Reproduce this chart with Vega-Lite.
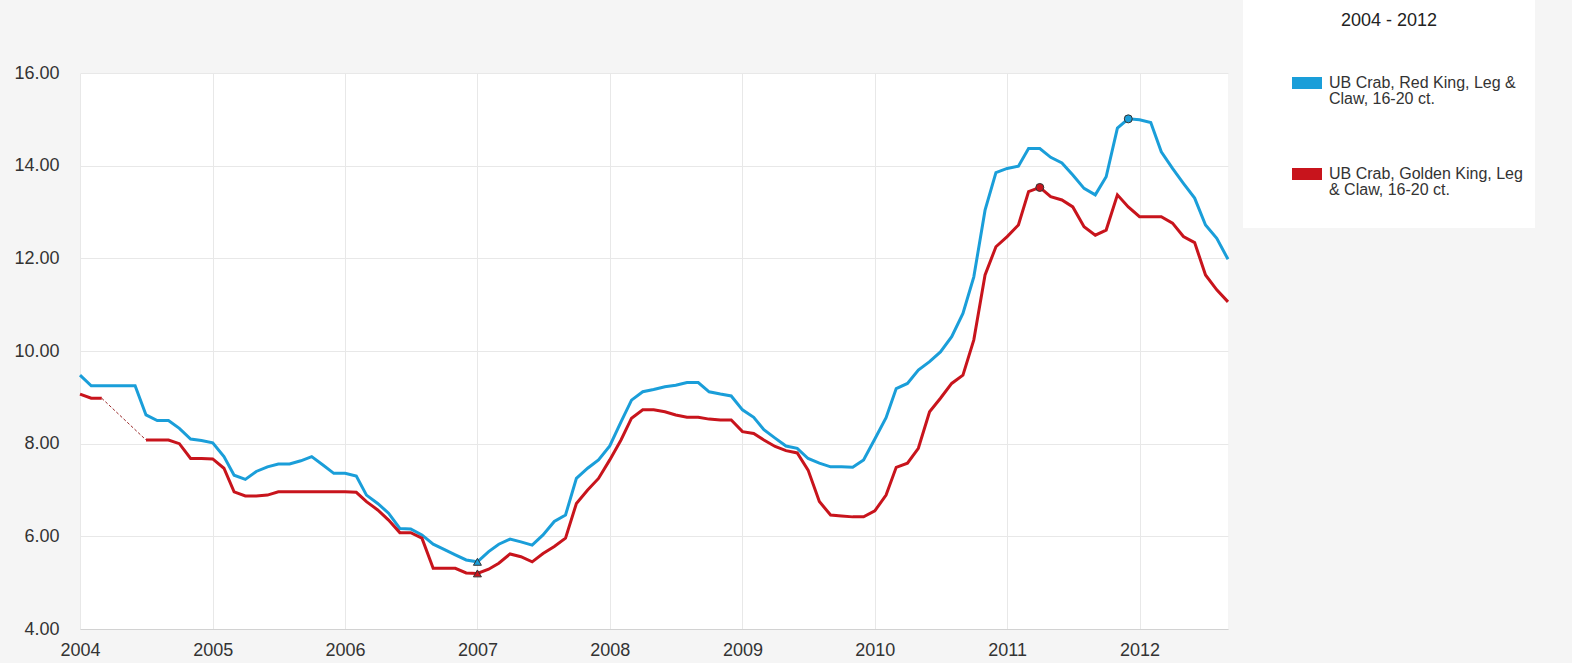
{
  "$schema": "https://vega.github.io/schema/vega-lite/v6.json",
  "width": 1148,
  "height": 556,
  "autosize": {"type": "none"},
  "padding": {"left": 80, "top": 73, "right": 344, "bottom": 34},
  "background": "#f5f5f5",
  "data": {
    "values": [
      {"d":"2004-01-01","R":9.48,"G":9.07},{"d":"2004-02-01","R":9.25,"G":8.98},{"d":"2004-03-01","R":9.25,"G":8.98},{"d":"2004-04-01","R":9.25,"G":null},{"d":"2004-05-01","R":9.25,"G":null},{"d":"2004-06-01","R":9.25,"G":null},{"d":"2004-07-01","R":8.62,"G":8.08},{"d":"2004-08-01","R":8.5,"G":8.08},{"d":"2004-09-01","R":8.5,"G":8.08},{"d":"2004-10-01","R":8.33,"G":8.0},{"d":"2004-11-01","R":8.1,"G":7.68},{"d":"2004-12-01","R":8.07,"G":7.68},
      {"d":"2005-01-01","R":8.02,"G":7.67},{"d":"2005-02-01","R":7.72,"G":7.47},{"d":"2005-03-01","R":7.32,"G":6.96},{"d":"2005-04-01","R":7.23,"G":6.87},{"d":"2005-05-01","R":7.4,"G":6.87},{"d":"2005-06-01","R":7.5,"G":6.89},{"d":"2005-07-01","R":7.56,"G":6.96},{"d":"2005-08-01","R":7.56,"G":6.96},{"d":"2005-09-01","R":7.63,"G":6.96},{"d":"2005-10-01","R":7.72,"G":6.96},{"d":"2005-11-01","R":7.54,"G":6.96},{"d":"2005-12-01","R":7.36,"G":6.96},
      {"d":"2006-01-01","R":7.36,"G":6.96},{"d":"2006-02-01","R":7.3,"G":6.95},{"d":"2006-03-01","R":6.89,"G":6.75},{"d":"2006-04-01","R":6.71,"G":6.57},{"d":"2006-05-01","R":6.5,"G":6.35},{"d":"2006-06-01","R":6.17,"G":6.08},{"d":"2006-07-01","R":6.16,"G":6.08},{"d":"2006-08-01","R":6.03,"G":5.96},{"d":"2006-09-01","R":5.83,"G":5.31},{"d":"2006-10-01","R":5.72,"G":5.31},{"d":"2006-11-01","R":5.6,"G":5.31},{"d":"2006-12-01","R":5.49,"G":5.21},
      {"d":"2007-01-01","R":5.45,"G":5.2},{"d":"2007-02-01","R":5.67,"G":5.29},{"d":"2007-03-01","R":5.83,"G":5.42},{"d":"2007-04-01","R":5.94,"G":5.62},{"d":"2007-05-01","R":5.88,"G":5.56},{"d":"2007-06-01","R":5.81,"G":5.45},{"d":"2007-07-01","R":6.03,"G":5.63},{"d":"2007-08-01","R":6.32,"G":5.78},{"d":"2007-09-01","R":6.46,"G":5.96},{"d":"2007-10-01","R":7.25,"G":6.71},{"d":"2007-11-01","R":7.47,"G":7.0},{"d":"2007-12-01","R":7.65,"G":7.25},
      {"d":"2008-01-01","R":7.95,"G":7.65},{"d":"2008-02-01","R":8.47,"G":8.08},{"d":"2008-03-01","R":8.94,"G":8.55},{"d":"2008-04-01","R":9.12,"G":8.73},{"d":"2008-05-01","R":9.17,"G":8.73},{"d":"2008-06-01","R":9.23,"G":8.69},{"d":"2008-07-01","R":9.26,"G":8.62},{"d":"2008-08-01","R":9.32,"G":8.57},{"d":"2008-09-01","R":9.32,"G":8.57},{"d":"2008-10-01","R":9.12,"G":8.53},{"d":"2008-11-01","R":9.07,"G":8.51},{"d":"2008-12-01","R":9.03,"G":8.51},
      {"d":"2009-01-01","R":8.73,"G":8.26},{"d":"2009-02-01","R":8.57,"G":8.22},{"d":"2009-03-01","R":8.3,"G":8.08},{"d":"2009-04-01","R":8.12,"G":7.94},{"d":"2009-05-01","R":7.95,"G":7.85},{"d":"2009-06-01","R":7.9,"G":7.8},{"d":"2009-07-01","R":7.68,"G":7.43},{"d":"2009-08-01","R":7.58,"G":6.75},{"d":"2009-09-01","R":7.5,"G":6.46},{"d":"2009-10-01","R":7.5,"G":6.44},{"d":"2009-11-01","R":7.49,"G":6.42},{"d":"2009-12-01","R":7.65,"G":6.42},
      {"d":"2010-01-01","R":8.1,"G":6.55},{"d":"2010-02-01","R":8.56,"G":6.89},{"d":"2010-03-01","R":9.19,"G":7.49},{"d":"2010-04-01","R":9.3,"G":7.58},{"d":"2010-05-01","R":9.59,"G":7.9},{"d":"2010-06-01","R":9.77,"G":8.69},{"d":"2010-07-01","R":9.98,"G":8.98},{"d":"2010-08-01","R":10.31,"G":9.3},{"d":"2010-09-01","R":10.81,"G":9.48},{"d":"2010-10-01","R":11.6,"G":10.24},{"d":"2010-11-01","R":13.04,"G":11.64},{"d":"2010-12-01","R":13.85,"G":12.25},
      {"d":"2011-01-01","R":13.94,"G":12.47},{"d":"2011-02-01","R":13.99,"G":12.72},{"d":"2011-03-01","R":14.37,"G":13.44},{"d":"2011-04-01","R":14.37,"G":13.53},{"d":"2011-05-01","R":14.18,"G":13.33},{"d":"2011-06-01","R":14.06,"G":13.26},{"d":"2011-07-01","R":13.8,"G":13.11},{"d":"2011-08-01","R":13.51,"G":12.68},{"d":"2011-09-01","R":13.37,"G":12.5},{"d":"2011-10-01","R":13.76,"G":12.61},{"d":"2011-11-01","R":14.81,"G":13.37},{"d":"2011-12-01","R":15.01,"G":13.11},
      {"d":"2012-01-01","R":14.99,"G":12.9},{"d":"2012-02-01","R":14.93,"G":12.9},{"d":"2012-03-01","R":14.3,"G":12.9},{"d":"2012-04-01","R":13.94,"G":12.76},{"d":"2012-05-01","R":13.62,"G":12.47},{"d":"2012-06-01","R":13.3,"G":12.34},{"d":"2012-07-01","R":12.72,"G":11.64},{"d":"2012-08-01","R":12.43,"G":11.32},{"d":"2012-09-01","R":11.98,"G":11.06}
    ]
  },
  "transform": [{"fold": ["R", "G"], "as": ["s", "v"]}],
  "encoding": {
    "x": {
      "field": "d", "type": "temporal",
      "scale": {"type": "utc", "domain": [{"year": 2004, "month": 1, "date": 1, "utc": true}, {"year": 2012, "month": 9, "date": 1, "utc": true}]},
      "axis": {"title": null, "format": "%Y", "tickCount": {"interval": "year", "step": 1}, "domain": true, "domainColor": "#d2d2d2", "labelPadding": 12, "labelFlush": false, "labelBaseline": "top"}
    },
    "y": {
      "field": "v", "type": "quantitative",
      "scale": {"domain": [4, 16], "nice": false, "zero": false},
      "axis": {"title": null, "values": [4, 6, 8, 10, 12, 14, 16], "format": ".2f", "labelPadding": 21, "domain": false}
    }
  },
  "layer": [
    {
      "mark": {"type": "line", "strokeWidth": 3, "invalid": "break-paths-show-domains", "interpolate": "linear"},
      "encoding": {
        "color": {
          "field": "s", "type": "nominal",
          "scale": {"domain": ["R", "G"], "range": ["#1a9ed9", "#c8141c"]},
          "legend": {
            "orient": "none", "legendX": 1163, "legendY": -73,
            "title": "2004 - 2012", "titleFontSize": 18, "titleFont": "Liberation Sans", "titleFontWeight": "normal", "titleColor": "#222", "titleAnchor": "middle", "titlePadding": 11,
            "fillColor": "white", "padding": 12,
            "symbolType": "M-1,0H1", "symbolSize": 900, "symbolStrokeWidth": 12, "symbolOffset": 31,
            "labelOffset": 1, "labelFontSize": 16, "labelFont": "Liberation Sans", "labelColor": "#333", "labelLimit": 300, "labelBaseline": "middle",
            "clipHeight": 84, "rowPadding": 7,
            "labelExpr": "datum.value == 'R' ? ['UB Crab, Red King, Leg &', 'Claw, 16-20 ct.'] : ['UB Crab, Golden King, Leg', '& Claw, 16-20 ct.']"
          }
        }
      }
    },
    {
      "transform": [{"filter": {"and": [{"field": "s", "equal": "G"}, {"field": "v", "valid": true}, {"field": "d", "range": [{"year": 2004, "month": 3, "date": 1, "utc": true}, {"year": 2004, "month": 7, "date": 1, "utc": true}]}]}}],
      "mark": {"type": "line", "strokeWidth": 1, "strokeDash": [3, 2], "color": "#9a2a2a"},
      "encoding": {}
    },
    {
      "transform": [
        {"filter": {"field": "v", "valid": true}},
        {"joinaggregate": [{"op": "min", "field": "v", "as": "vmin"}, {"op": "max", "field": "v", "as": "vmax"}], "groupby": ["s"]},
        {"filter": "datum.v == datum.vmin || datum.v == datum.vmax"},
        {"calculate": "datum.v == datum.vmin ? 'min' : 'max'", "as": "k"}
      ],
      "mark": {"type": "point", "filled": true, "size": 64, "stroke": "#333", "strokeWidth": 1, "opacity": 1},
      "encoding": {
        "fill": {"field": "s", "type": "nominal", "scale": {"domain": ["R", "G"], "range": ["#1a9ed9", "#c8141c"]}, "legend": null},
        "shape": {"field": "k", "type": "nominal", "scale": {"domain": ["min", "max"], "range": ["triangle-up", "circle"]}, "legend": null}
      }
    }
  ],
  "resolve": {"scale": {"fill": "independent"}},
  "config": {
    "view": {"fill": "white", "stroke": null},
    "axis": {"labelFont": "Liberation Sans", "labelFontSize": 18, "labelColor": "#333", "gridColor": "#e8e8e8", "gridWidth": 1, "ticks": false},
    "style": {"guide-label": {"lineHeight": 16}}
  }
}
